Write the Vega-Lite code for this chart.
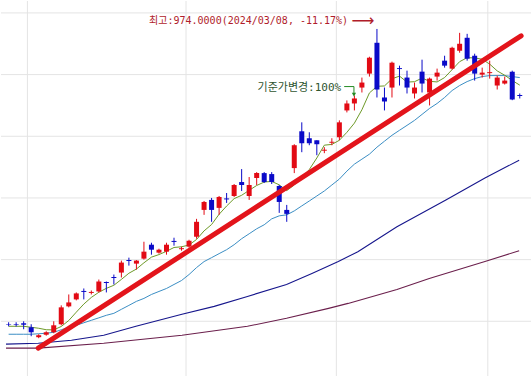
{
  "$schema": "https://vega.github.io/schema/vega-lite/v6.json",
  "width": 532,
  "height": 377,
  "padding": 0,
  "autosize": {"type": "fit", "contains": "padding"},
  "background": "white",
  "config": {"view": {"stroke": null}},
  "resolve": {"scale": {"color": "independent"}},
  "datasets": {
    "candles": [
      {"i":0,"o":495.2,"h":498.4,"l":491.9,"c":494.4,"dir":"down","ma5":491.9,"ma20":479.0},
      {"i":1,"o":495.2,"h":498.4,"l":491.5,"c":494.2,"dir":"down","ma5":491.9,"ma20":479.0},
      {"i":2,"o":496.8,"h":500.0,"l":487.1,"c":494.4,"dir":"down","ma5":491.9,"ma20":479.0},
      {"i":3,"o":490.3,"h":495.2,"l":475.8,"c":482.2,"dir":"down","ma5":490.3,"ma20":479.0},
      {"i":4,"o":474.2,"h":479.0,"l":472.6,"c":477.4,"dir":"up","ma5":488.7,"ma20":479.8},
      {"i":5,"o":478.2,"h":483.9,"l":476.6,"c":482.2,"dir":"up","ma5":486.3,"ma20":480.6},
      {"i":6,"o":482.2,"h":500.0,"l":480.6,"c":493.5,"dir":"up","ma5":486.1,"ma20":482.2},
      {"i":7,"o":495.2,"h":525.8,"l":493.5,"c":522.6,"dir":"up","ma5":491.6,"ma20":486.3},
      {"i":8,"o":524.2,"h":543.5,"l":522.6,"c":530.6,"dir":"up","ma5":501.3,"ma20":490.3},
      {"i":9,"o":535.5,"h":546.8,"l":533.9,"c":545.2,"dir":"up","ma5":514.8,"ma20":493.5},
      {"i":10,"o":549.2,"h":553.2,"l":535.5,"c":547.6,"dir":"down","ma5":527.9,"ma20":497.6},
      {"i":11,"o":546.0,"h":550.0,"l":543.5,"c":547.6,"dir":"up","ma5":538.7,"ma20":501.6},
      {"i":12,"o":548.4,"h":567.7,"l":546.8,"c":564.5,"dir":"up","ma5":547.1,"ma20":505.6},
      {"i":13,"o":563.7,"h":564.5,"l":546.8,"c":562.1,"dir":"down","ma5":553.4,"ma20":509.7},
      {"i":14,"o":571.8,"h":575.8,"l":559.7,"c":570.2,"dir":"down","ma5":558.4,"ma20":512.9},
      {"i":15,"o":579.0,"h":598.4,"l":571.0,"c":595.2,"dir":"up","ma5":567.9,"ma20":519.4},
      {"i":16,"o":599.2,"h":603.2,"l":590.3,"c":597.6,"dir":"down","ma5":577.9,"ma20":525.8},
      {"i":17,"o":593.5,"h":599.2,"l":583.9,"c":598.4,"dir":"up","ma5":584.7,"ma20":532.3},
      {"i":18,"o":601.6,"h":629.0,"l":600.0,"c":612.9,"dir":"up","ma5":594.8,"ma20":537.1},
      {"i":19,"o":624.2,"h":627.4,"l":608.0,"c":616.1,"dir":"down","ma5":604.0,"ma20":543.5},
      {"i":20,"o":611.3,"h":617.7,"l":609.7,"c":616.1,"dir":"up","ma5":608.2,"ma20":548.4},
      {"i":21,"o":612.9,"h":627.4,"l":608.0,"c":624.2,"dir":"up","ma5":613.5,"ma20":553.2},
      {"i":22,"o":630.3,"h":635.5,"l":622.6,"c":628.7,"dir":"down","ma5":619.7,"ma20":559.7},
      {"i":23,"o":616.9,"h":621.0,"l":614.5,"c":618.5,"dir":"up","ma5":620.8,"ma20":566.1},
      {"i":24,"o":621.0,"h":632.2,"l":619.4,"c":630.6,"dir":"up","ma5":623.7,"ma20":575.8},
      {"i":25,"o":637.1,"h":666.1,"l":633.9,"c":661.3,"dir":"up","ma5":632.7,"ma20":587.1},
      {"i":26,"o":680.6,"h":695.1,"l":672.6,"c":693.5,"dir":"up","ma5":646.6,"ma20":596.8},
      {"i":27,"o":696.8,"h":700.0,"l":661.3,"c":680.6,"dir":"down","ma5":656.9,"ma20":603.2},
      {"i":28,"o":683.9,"h":703.2,"l":672.6,"c":701.6,"dir":"up","ma5":673.5,"ma20":609.7},
      {"i":29,"o":699.2,"h":708.0,"l":691.9,"c":697.6,"dir":"down","ma5":686.9,"ma20":616.1},
      {"i":30,"o":703.2,"h":722.6,"l":701.6,"c":721.0,"dir":"up","ma5":698.9,"ma20":624.2},
      {"i":31,"o":725.8,"h":746.8,"l":711.3,"c":721.0,"dir":"down","ma5":704.3,"ma20":633.9},
      {"i":32,"o":703.2,"h":733.9,"l":696.8,"c":721.0,"dir":"up","ma5":712.4,"ma20":641.9},
      {"i":33,"o":732.2,"h":741.9,"l":721.0,"c":740.3,"dir":"up","ma5":720.2,"ma20":650.0},
      {"i":34,"o":740.3,"h":741.9,"l":724.2,"c":725.8,"dir":"down","ma5":725.8,"ma20":656.5},
      {"i":35,"o":738.7,"h":741.9,"l":722.6,"c":725.8,"dir":"down","ma5":726.8,"ma20":666.1},
      {"i":36,"o":719.4,"h":721.0,"l":675.8,"c":693.5,"dir":"down","ma5":721.3,"ma20":671.0},
      {"i":37,"o":680.6,"h":688.7,"l":661.3,"c":674.2,"dir":"down","ma5":711.9,"ma20":672.6},
      {"i":38,"o":748.4,"h":787.1,"l":740.3,"c":785.5,"dir":"up","ma5":721.0,"ma20":679.0},
      {"i":39,"o":808.1,"h":822.6,"l":774.2,"c":788.7,"dir":"down","ma5":733.5,"ma20":687.1},
      {"i":40,"o":796.8,"h":806.5,"l":785.5,"c":788.7,"dir":"down","ma5":746.1,"ma20":695.1},
      {"i":41,"o":793.5,"h":793.5,"l":769.3,"c":787.1,"dir":"down","ma5":764.8,"ma20":703.2},
      {"i":42,"o":776.6,"h":782.3,"l":772.6,"c":778.2,"dir":"up","ma5":785.6,"ma20":711.3},
      {"i":43,"o":789.5,"h":796.8,"l":785.5,"c":791.1,"dir":"up","ma5":786.8,"ma20":721.0},
      {"i":44,"o":798.4,"h":825.8,"l":793.5,"c":822.6,"dir":"up","ma5":793.5,"ma20":730.6},
      {"i":45,"o":841.9,"h":858.1,"l":838.7,"c":853.2,"dir":"up","ma5":806.4,"ma20":743.5},
      {"i":46,"o":853.2,"h":866.1,"l":841.9,"c":861.3,"dir":"up","ma5":821.3,"ma20":754.8},
      {"i":47,"o":879.0,"h":895.2,"l":871.0,"c":887.1,"dir":"up","ma5":843.0,"ma20":762.9},
      {"i":48,"o":901.6,"h":929.0,"l":896.8,"c":927.4,"dir":"up","ma5":870.3,"ma20":771.0},
      {"i":49,"o":951.6,"h":974.0,"l":862.9,"c":875.8,"dir":"down","ma5":881.0,"ma20":782.3},
      {"i":50,"o":862.9,"h":879.0,"l":841.9,"c":856.4,"dir":"down","ma5":881.6,"ma20":792.0},
      {"i":51,"o":879.0,"h":921.0,"l":862.9,"c":919.3,"dir":"up","ma5":893.2,"ma20":801.6},
      {"i":52,"o":910.5,"h":914.5,"l":882.3,"c":909.0,"dir":"down","ma5":897.6,"ma20":809.7},
      {"i":53,"o":895.2,"h":906.4,"l":869.4,"c":879.0,"dir":"down","ma5":887.9,"ma20":817.7},
      {"i":54,"o":869.4,"h":887.1,"l":861.3,"c":879.0,"dir":"up","ma5":888.5,"ma20":825.8},
      {"i":55,"o":904.8,"h":924.2,"l":871.0,"c":885.5,"dir":"down","ma5":894.3,"ma20":835.5},
      {"i":56,"o":871.0,"h":895.2,"l":850.0,"c":893.5,"dir":"up","ma5":889.2,"ma20":845.2},
      {"i":57,"o":896.8,"h":909.7,"l":890.3,"c":903.2,"dir":"up","ma5":888.1,"ma20":853.2},
      {"i":58,"o":922.6,"h":930.6,"l":911.3,"c":914.5,"dir":"down","ma5":895.2,"ma20":862.9},
      {"i":59,"o":909.7,"h":945.2,"l":908.1,"c":943.5,"dir":"up","ma5":908.1,"ma20":874.2},
      {"i":60,"o":938.7,"h":967.7,"l":935.5,"c":950.0,"dir":"up","ma5":921.0,"ma20":882.3},
      {"i":61,"o":959.7,"h":966.1,"l":922.6,"c":925.8,"dir":"down","ma5":927.4,"ma20":888.7},
      {"i":62,"o":930.6,"h":933.9,"l":890.3,"c":901.6,"dir":"down","ma5":927.1,"ma20":893.5},
      {"i":63,"o":900.0,"h":911.3,"l":895.2,"c":903.2,"dir":"up","ma5":924.9,"ma20":896.8},
      {"i":64,"o":902.4,"h":922.6,"l":893.5,"c":904.0,"dir":"up","ma5":917.0,"ma20":898.4},
      {"i":65,"o":882.3,"h":898.4,"l":875.8,"c":895.2,"dir":"up","ma5":906.0,"ma20":898.4},
      {"i":66,"o":885.5,"h":896.8,"l":883.9,"c":890.3,"dir":"up","ma5":898.9,"ma20":898.4},
      {"i":67,"o":904.8,"h":906.4,"l":858.5,"c":859.7,"dir":"down","ma5":890.5,"ma20":896.8},
      {"i":68,"o":866.9,"h":869.4,"l":861.3,"c":865.3,"dir":"down","ma5":882.9,"ma20":895.2}
    ],
    "ma60": [
      {"i":-0.35,"v":462.9},{"i":3.94,"v":464.5},{"i":8.36,"v":469.3},
      {"i":12.65,"v":477.4},{"i":16.94,"v":491.9},{"i":23.06,"v":511.3},
      {"i":27.35,"v":524.2},{"i":31.77,"v":540.3},{"i":36.97,"v":559.7},
      {"i":40.35,"v":577.4},{"i":43.86,"v":596.8},{"i":46.46,"v":612.9},
      {"i":51.66,"v":653.2},{"i":58.17,"v":696.8},{"i":63.37,"v":732.2},
      {"i":67.92,"v":761.3}
    ],
    "ma120": [
      {"i":-0.35,"v":456.5},{"i":3.94,"v":456.5},{"i":12.65,"v":464.5},
      {"i":23.06,"v":477.4},{"i":31.77,"v":491.9},{"i":36.97,"v":504.8},
      {"i":42.56,"v":520.9},{"i":45.16,"v":529.0},{"i":51.66,"v":551.6},
      {"i":55.96,"v":569.3},{"i":63.37,"v":596.8},{"i":67.92,"v":614.5}
    ],
    "trend": [{"i":3.94,"p":456.5},{"i":68.18,"p":962.9}],
    "gridx": [{"i":2.5},{"i":23.6},{"i":43.6},{"i":63.75}],
    "gridy": [{"p":500},{"p":600},{"p":700},{"p":800},{"p":900},{"p":1000}],
    "note1": [{"i":45.16,"p":987.1,"label":"최고:974.0000(2024/03/08, -11.17%)"}],
    "arrow1": [{"i":45.6,"p":987.1,"label":"⟶"}],
    "note2": [{"i":44.25,"p":878.2,"label":"기준가변경:100%"}],
    "bracket": [{"i":44.64,"p":880.6,"k":0},{"i":45.94,"p":880.6,"k":1},{"i":45.94,"p":869.4,"k":2}],
    "tip": [{"i":45.94,"p":867.6}]
  },
  "layer": [
    {
      "data": {"name": "gridx"},
      "mark": {"type": "rule", "color": "#e4e4e4", "strokeWidth": 1},
      "encoding": {
        "x": {"field": "i", "type": "quantitative", "scale": {"domain": [-0.351, 68.83], "nice": false, "zero": false}, "axis": null}
      }
    },
    {
      "data": {"name": "gridy"},
      "mark": {"type": "rule", "color": "#e4e4e4", "strokeWidth": 1},
      "encoding": {
        "y": {"field": "p", "type": "quantitative", "scale": {"domain": [411.29, 1019.35], "nice": false, "zero": false}, "axis": null}
      }
    },
    {
      "data": {"name": "ma120"},
      "mark": {"type": "line", "strokeWidth": 1.1, "color": "#6b1f4c", "clip": true},
      "encoding": {
        "x": {"field": "i", "type": "quantitative", "axis": null},
        "y": {"field": "v", "type": "quantitative", "axis": null}
      }
    },
    {
      "data": {"name": "ma60"},
      "mark": {"type": "line", "strokeWidth": 1.1, "color": "#16168c", "clip": true},
      "encoding": {
        "x": {"field": "i", "type": "quantitative", "axis": null},
        "y": {"field": "v", "type": "quantitative", "axis": null}
      }
    },
    {
      "data": {"name": "candles"},
      "mark": {"type": "line", "strokeWidth": 1, "color": "#3b8ec4", "clip": true},
      "encoding": {
        "x": {"field": "i", "type": "quantitative", "axis": null},
        "y": {"field": "ma20", "type": "quantitative", "axis": null}
      }
    },
    {
      "data": {"name": "candles"},
      "mark": {"type": "line", "strokeWidth": 1, "color": "#6e9a28", "clip": true},
      "encoding": {
        "x": {"field": "i", "type": "quantitative", "axis": null},
        "y": {"field": "ma5", "type": "quantitative", "axis": null}
      }
    },
    {
      "data": {"name": "candles"},
      "mark": {"type": "rule", "strokeWidth": 1},
      "encoding": {
        "x": {"field": "i", "type": "quantitative", "axis": null},
        "y": {"field": "l", "type": "quantitative", "axis": null},
        "y2": {"field": "h"},
        "color": {"field": "dir", "type": "nominal", "scale": {"domain": ["up", "down"], "range": ["#e20a14", "#0a0ac8"]}, "legend": null}
      }
    },
    {
      "data": {"name": "candles"},
      "mark": {"type": "bar", "width": 5},
      "encoding": {
        "x": {"field": "i", "type": "quantitative", "axis": null},
        "y": {"field": "o", "type": "quantitative", "axis": null},
        "y2": {"field": "c"},
        "color": {"field": "dir", "type": "nominal", "scale": {"domain": ["up", "down"], "range": ["#e20a14", "#0a0ac8"]}, "legend": null}
      }
    },
    {
      "data": {"name": "trend"},
      "mark": {"type": "line", "strokeWidth": 5, "color": "#e3141b", "strokeCap": "round"},
      "encoding": {
        "x": {"field": "i", "type": "quantitative", "axis": null},
        "y": {"field": "p", "type": "quantitative", "axis": null}
      }
    },
    {
      "data": {"name": "note1"},
      "mark": {"type": "text", "align": "right", "baseline": "middle", "font": "DejaVu Sans Mono, Noto Sans CJK KR", "fontSize": 10, "color": "#b01c2a"},
      "encoding": {
        "x": {"field": "i", "type": "quantitative", "axis": null},
        "y": {"field": "p", "type": "quantitative", "axis": null},
        "text": {"field": "label"}
      }
    },
    {
      "data": {"name": "arrow1"},
      "mark": {"type": "text", "align": "left", "baseline": "middle", "font": "DejaVu Sans", "fontSize": 16, "color": "#b01c2a"},
      "encoding": {
        "x": {"field": "i", "type": "quantitative", "axis": null},
        "y": {"field": "p", "type": "quantitative", "axis": null},
        "text": {"field": "label"}
      }
    },
    {
      "data": {"name": "note2"},
      "mark": {"type": "text", "align": "right", "baseline": "middle", "font": "DejaVu Sans Mono, Noto Sans CJK KR", "fontSize": 11, "color": "#2f552f"},
      "encoding": {
        "x": {"field": "i", "type": "quantitative", "axis": null},
        "y": {"field": "p", "type": "quantitative", "axis": null},
        "text": {"field": "label"}
      }
    },
    {
      "data": {"name": "bracket"},
      "mark": {"type": "line", "strokeWidth": 1, "color": "#238a23"},
      "encoding": {
        "x": {"field": "i", "type": "quantitative", "axis": null},
        "y": {"field": "p", "type": "quantitative", "axis": null},
        "order": {"field": "k"}
      }
    },
    {
      "data": {"name": "tip"},
      "mark": {"type": "point", "shape": "triangle-down", "filled": true, "size": 18, "color": "#238a23", "opacity": 1},
      "encoding": {
        "x": {"field": "i", "type": "quantitative", "axis": null},
        "y": {"field": "p", "type": "quantitative", "axis": null}
      }
    }
  ]
}
